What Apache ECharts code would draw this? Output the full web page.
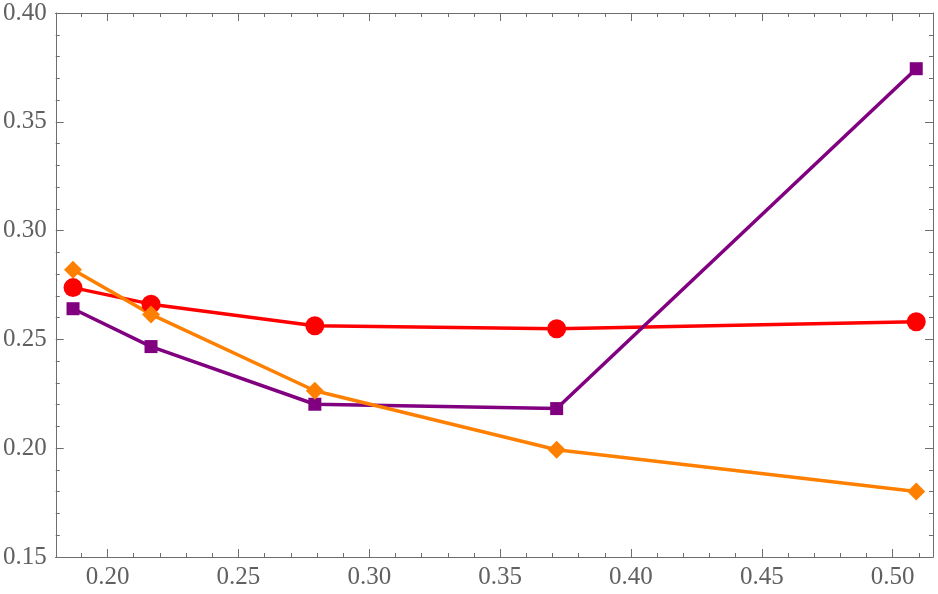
<!DOCTYPE html>
<html>
<head>
<meta charset="utf-8">
<script src="https://cdn.jsdelivr.net/npm/echarts@6/dist/echarts.min.js"></script>
<style>
  html, body { margin: 0; padding: 0; background: #fff; }
  #main { width: 938px; height: 594px; }
</style>
</head>
<body>
<div id="main"></div>
<script>
  // data
  var xs = [0.1868, 0.2166, 0.2792, 0.3716, 0.5090];
  var redVals = [0.2738, 0.2662, 0.2563, 0.2549, 0.2581];
  var purpleVals = [0.2641, 0.2467, 0.2202, 0.2182, 0.3744];
  var orangeVals = [0.2820, 0.2615, 0.2264, 0.1993, 0.1801];
  var xTicks = [0.20, 0.25, 0.30, 0.35, 0.40, 0.45, 0.50];

  var xMinor = [];
  for (var i = 18; i <= 51; i++) xMinor.push(i / 100);

  function pairs(vals) {
    return xs.map(function (x, i) { return [x, vals[i]]; });
  }

  var axisColor = '#6e6e6e';
  var labelFont = { color: '#606060', fontFamily: 'Liberation Serif', fontSize: 25 };
  var xMin = 0.1802, xMax = 0.5154;

  function xAxisOf(pos, ticks, len, labels) {
    return {
      type: 'value', position: pos, min: xMin, max: xMax,
      axisLine: { show: true, lineStyle: { color: axisColor, width: 1 } },
      axisTick: { show: true, inside: true, length: len, customValues: ticks,
                  lineStyle: { color: axisColor } },
      axisLabel: labels ? Object.assign({ show: true, margin: 8, customValues: ticks,
                  formatter: function (v) { return v.toFixed(2); } }, labelFont)
                : { show: false },
      splitLine: { show: false }
    };
  }
  function yAxisOf(pos, labels) {
    return {
      type: 'value', position: pos, min: 0.15, max: 0.40, interval: 0.05,
      axisLine: { show: true, lineStyle: { color: axisColor, width: 1 } },
      axisTick: { show: true, inside: true, length: 8, lineStyle: { color: axisColor } },
      minorTick: { show: true, splitNumber: 5, length: 4, lineStyle: { color: axisColor } },
      axisLabel: labels ? Object.assign({ show: true, margin: 9,
                  formatter: function (v) { return v.toFixed(2); } }, labelFont)
                : { show: false },
      splitLine: { show: false },
      minorSplitLine: { show: false }
    };
  }

  var chart = echarts.init(document.getElementById('main'));
  chart.setOption({
    backgroundColor: '#fff',
    animation: false,
    grid: { left: 53, right: 5, top: 13, bottom: 37 },
    xAxis: [
      xAxisOf('bottom', xTicks, 8, true),
      xAxisOf('bottom', xMinor, 4, false),
      xAxisOf('top', xTicks, 8, false),
      xAxisOf('top', xMinor, 4, false)
    ],
    yAxis: [yAxisOf('left', true), yAxisOf('right', false)],
    series: [
      {
        type: 'line', data: pairs(redVals), symbol: 'circle', symbolSize: 19,
        itemStyle: { color: '#ff0000' }, lineStyle: { color: '#ff0000', width: 3.5 }
      },
      {
        type: 'line', data: pairs(purpleVals), symbol: 'rect', symbolSize: 13,
        itemStyle: { color: '#800080' }, lineStyle: { color: '#800080', width: 3.5 }
      },
      {
        type: 'line', data: pairs(orangeVals), symbol: 'diamond', symbolSize: 18,
        itemStyle: { color: '#ff8000' }, lineStyle: { color: '#ff8000', width: 3.5 }
      }
    ]
  });
</script>
</body>
</html>
